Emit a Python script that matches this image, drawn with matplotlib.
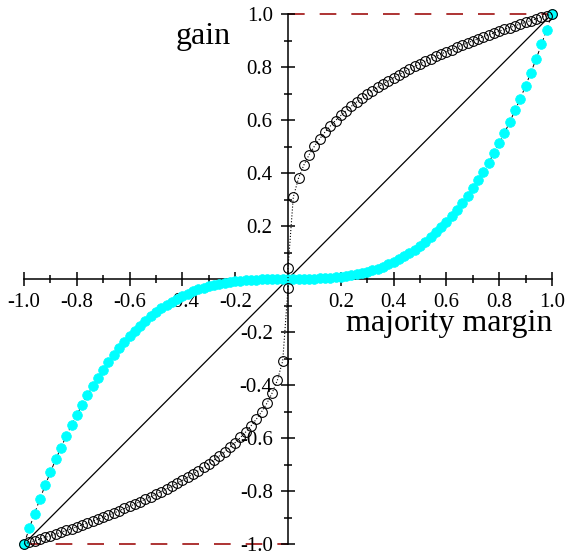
import matplotlib
matplotlib.use("Agg")
import matplotlib.pyplot as plt
from matplotlib.ticker import FixedLocator, FixedFormatter

plt.rcParams['font.family'] = ['Liberation Serif', 'DejaVu Serif']

# majority margin grid
margin = [-1.00, -0.98, -0.96, -0.94, -0.92, -0.90, -0.88, -0.86, -0.84, -0.82,
          -0.80, -0.78, -0.76, -0.74, -0.72, -0.70, -0.68, -0.66, -0.64, -0.62,
          -0.60, -0.58, -0.56, -0.54, -0.52, -0.50, -0.48, -0.46, -0.44, -0.42,
          -0.40, -0.38, -0.36, -0.34, -0.32, -0.30, -0.28, -0.26, -0.24, -0.22,
          -0.20, -0.18, -0.16, -0.14, -0.12, -0.10, -0.08, -0.06, -0.04, -0.02,
          0.00,
          0.02, 0.04, 0.06, 0.08, 0.10, 0.12, 0.14, 0.16, 0.18, 0.20,
          0.22, 0.24, 0.26, 0.28, 0.30, 0.32, 0.34, 0.36, 0.38, 0.40,
          0.42, 0.44, 0.46, 0.48, 0.50, 0.52, 0.54, 0.56, 0.58, 0.60,
          0.62, 0.64, 0.66, 0.68, 0.70, 0.72, 0.74, 0.76, 0.78, 0.80,
          0.82, 0.84, 0.86, 0.88, 0.90, 0.92, 0.94, 0.96, 0.98, 1.00]

# filled cyan points
gain_cyan = [-1.000, -0.941, -0.885, -0.831, -0.779, -0.729, -0.681, -0.636, -0.593, -0.551,
             -0.512, -0.475, -0.439, -0.405, -0.373, -0.343, -0.314, -0.287, -0.262, -0.238,
             -0.216, -0.195, -0.176, -0.157, -0.141, -0.125, -0.111, -0.097, -0.085, -0.074,
             -0.064, -0.055, -0.047, -0.039, -0.033, -0.027, -0.022, -0.018, -0.014, -0.011,
             -0.008, -0.006, -0.004, -0.003, -0.002, -0.001, -0.001, 0.000, 0.000, 0.000,
             0.000,
             0.000, 0.000, 0.000, 0.001, 0.001, 0.002, 0.003, 0.004, 0.006, 0.008,
             0.011, 0.014, 0.018, 0.022, 0.027, 0.033, 0.039, 0.047, 0.055, 0.064,
             0.074, 0.085, 0.097, 0.111, 0.125, 0.141, 0.157, 0.176, 0.195, 0.216,
             0.238, 0.262, 0.287, 0.314, 0.343, 0.373, 0.405, 0.439, 0.475, 0.512,
             0.551, 0.593, 0.636, 0.681, 0.729, 0.779, 0.831, 0.885, 0.941, 1.000]

# open circles (two points sit on the vertical axis)
margin_open = margin[:50] + [0.0, 0.0] + margin[51:]
gain_open = [-1.000, -0.994, -0.988, -0.982, -0.975, -0.969, -0.962, -0.956, -0.949, -0.942,
             -0.935, -0.928, -0.921, -0.914, -0.906, -0.899, -0.891, -0.883, -0.875, -0.866,
             -0.858, -0.849, -0.840, -0.831, -0.822, -0.812, -0.802, -0.792, -0.782, -0.771,
             -0.760, -0.748, -0.736, -0.724, -0.711, -0.697, -0.683, -0.668, -0.652, -0.635,
             -0.617, -0.598, -0.577, -0.554, -0.529, -0.501, -0.469, -0.430, -0.381, -0.309,
             -0.035, 0.040,
             0.309, 0.381, 0.430, 0.469, 0.501, 0.529, 0.554, 0.577, 0.598, 0.617,
             0.635, 0.652, 0.668, 0.683, 0.697, 0.711, 0.724, 0.736, 0.748, 0.760,
             0.771, 0.782, 0.792, 0.802, 0.812, 0.822, 0.831, 0.840, 0.849, 0.858,
             0.866, 0.875, 0.883, 0.891, 0.899, 0.906, 0.914, 0.921, 0.928, 0.935,
             0.942, 0.949, 0.956, 0.962, 0.969, 0.975, 0.982, 0.988, 0.994, 1.000]

diag_x = [-1.0, 1.0]
diag_y = [-1.0, 1.0]
top_ref_x = [0.0, 1.0]
top_ref_y = [1.0, 1.0]
bot_ref_x = [-1.0, 0.0]
bot_ref_y = [-1.0, -1.0]

tick_vals = [-1.0, -0.8, -0.6, -0.4, -0.2, 0.2, 0.4, 0.6, 0.8, 1.0]
tick_labels = ['-1.0', '-0.8', '-0.6', '-0.4', '-0.2', '0.2', '0.4', '0.6', '0.8', '1.0']
minor_vals = [-0.9, -0.7, -0.5, -0.3, -0.1, 0.1, 0.3, 0.5, 0.7, 0.9]

fig = plt.figure(figsize=(5.7, 5.55), dpi=100)
ax = fig.add_axes([24 / 570, 11 / 555, 528 / 570, 530 / 555])
ax.set_xlim(-1, 1)
ax.set_ylim(-1, 1)

# reference lines
ax.plot(top_ref_x, top_ref_y, color='#a01010', lw=1.2, ls=(0, (10, 9)), clip_on=False, zorder=1)
ax.plot(bot_ref_x, bot_ref_y, color='#a01010', lw=1.2, ls=(0, (10, 9)), clip_on=False, zorder=1)
ax.plot(diag_x, diag_y, color='black', lw=0.9, clip_on=False, zorder=2)

# cyan series with thin dashed curve
ax.plot(margin, gain_cyan, color='black', lw=0.7, ls=(0, (4, 3)), clip_on=False, zorder=3)
ax.plot(margin, gain_cyan, ls='none', marker='o', ms=7.0, mfc='cyan', mec='cyan',
        mew=0.5, clip_on=False, zorder=4)

# open circles with dotted curve
ax.plot(margin_open, gain_open, color='black', lw=0.8, ls=':', clip_on=False, zorder=5)
ax.plot(margin_open, gain_open, ls='none', marker='o', ms=7.0, mfc='none', mec='black',
        mew=0.8, clip_on=False, zorder=6)

# axes through the origin
for side in ['top', 'right']:
    ax.spines[side].set_visible(False)
ax.spines['left'].set_position(('data', 0))
ax.spines['bottom'].set_position(('data', 0))
ax.spines['left'].set_linewidth(1.1)
ax.spines['bottom'].set_linewidth(1.1)
ax.patch.set_alpha(0)

for axis in [ax.xaxis, ax.yaxis]:
    axis.set_major_locator(FixedLocator(tick_vals))
    axis.set_major_formatter(FixedFormatter(tick_labels))
    axis.set_minor_locator(FixedLocator(minor_vals))
ax.tick_params(which='major', direction='inout', length=10, width=1.1, labelsize=15, pad=5)
ax.tick_params(which='minor', direction='inout', length=6, width=1.1)
ax.tick_params(axis='y', pad=6)

ax.text(-0.217, 0.886, 'gain', fontsize=23, ha='right', va='baseline')
ax.text(0.219, -0.195, 'majority margin', fontsize=23, ha='left', va='baseline')

fig.savefig('out.png', dpi=100)
